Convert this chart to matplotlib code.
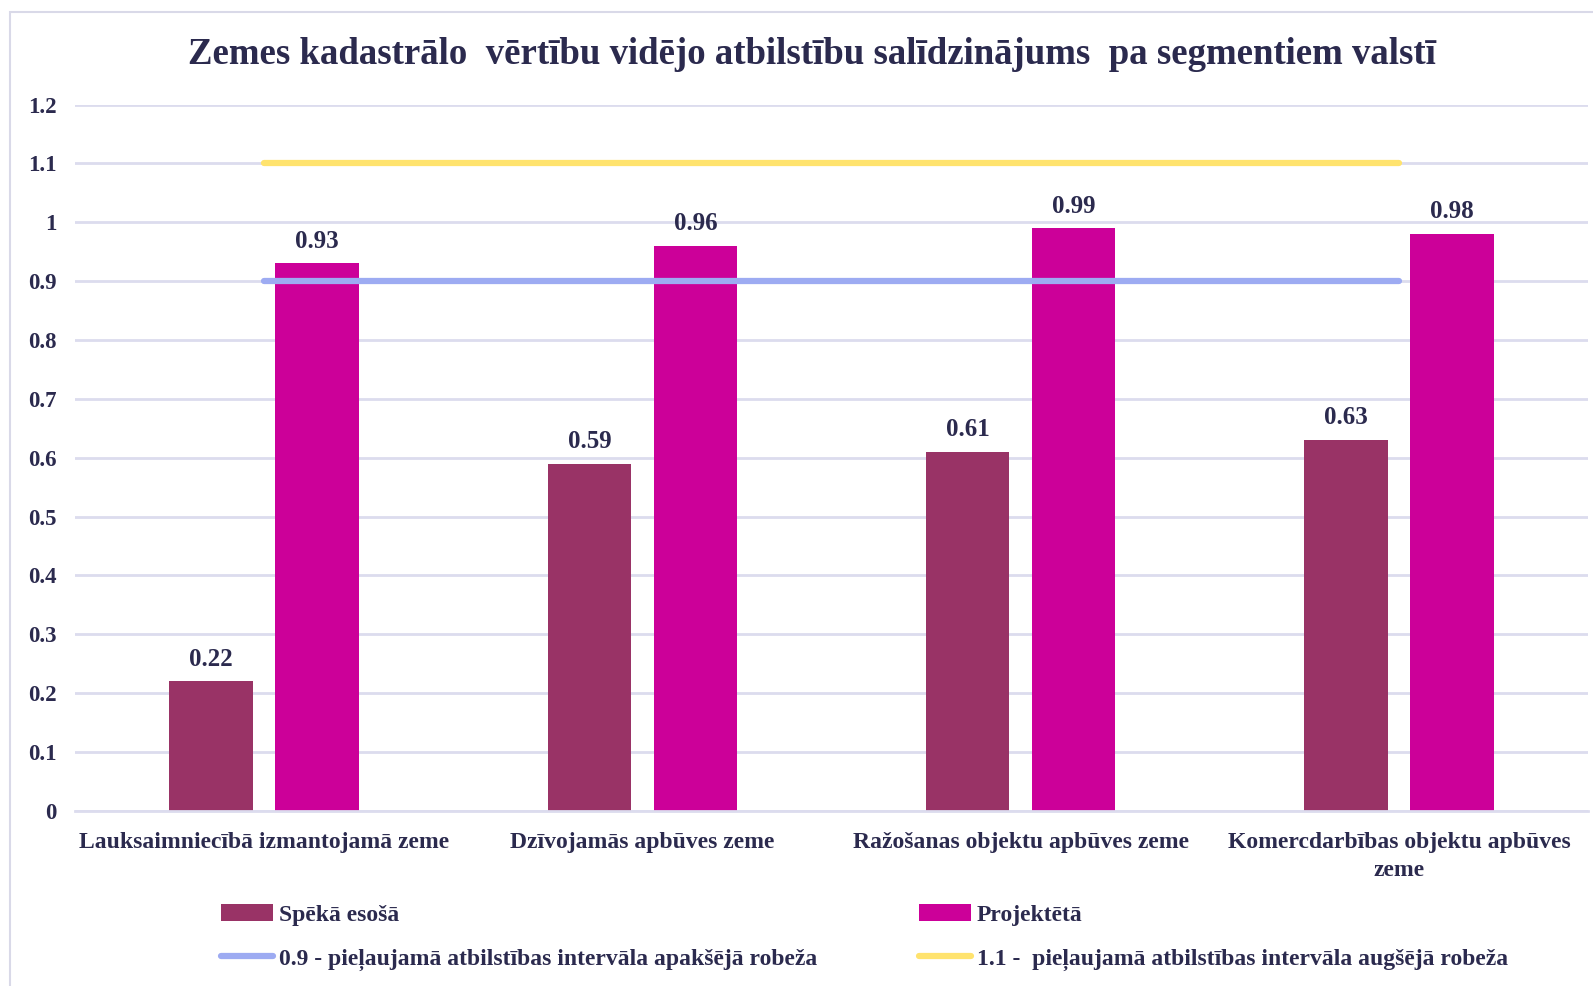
import matplotlib.pyplot as plt
import numpy as np
from matplotlib.patches import Rectangle

# data
categories = ["Lauksaimniecībā izmantojamā zeme", "Dzīvojamās apbūves zeme",
              "Ražošanas objektu apbūves zeme", "Komercdarbības objektu apbūves\nzeme"]
current = [0.22, 0.59, 0.61, 0.63]
projected = [0.93, 0.96, 0.99, 0.98]
lower = [0.9, 0.9, 0.9, 0.9]
upper = [1.1, 1.1, 1.1, 1.1]
yticks = [0, 0.1, 0.2, 0.3, 0.4, 0.5, 0.6, 0.7, 0.8, 0.9, 1, 1.1, 1.2]
ytick_labels = ["0", "0.1", "0.2", "0.3", "0.4", "0.5", "0.6", "0.7", "0.8", "0.9", "1", "1.1", "1.2"]

txt = "#2b2a4e"
grid = "#dcdcee"
plt.rcParams['font.family'] = ['Liberation Serif', 'DejaVu Serif']
plt.rcParams['font.weight'] = 'bold'

fig = plt.figure(figsize=(15.93, 9.86), dpi=100)
fig.patches.append(Rectangle((0.006, -0.01), 1.2, 0.998, transform=fig.transFigure,
                             fill=False, edgecolor="#d9d9e8", linewidth=1.5))
ax = fig.add_axes([0.047, 0.1775, 0.95, 0.7165])

x = np.arange(len(categories))
b1 = ax.bar(x - 0.14, current, 0.22, color="#993366", zorder=2)
b2 = ax.bar(x + 0.14, projected, 0.22, color="#cc0099", zorder=2)
l1, = ax.plot(x, lower, color="#9dabf2", lw=4.5, solid_capstyle="round", zorder=3)
l2, = ax.plot(x, upper, color="#ffe36e", lw=4.5, solid_capstyle="round", zorder=3)

for bars in (b1, b2):
    for r in bars:
        ax.text(r.get_x() + r.get_width() / 2, r.get_height() + 0.018, f"{r.get_height():.2f}",
                ha="center", va="bottom", fontsize=18, color=txt, fontweight="bold")

ax.set_xlim(-0.5, 3.5)
ax.set_ylim(0, 1.2)
ax.set_yticks(yticks)
ax.set_yticklabels(ytick_labels, fontsize=16.5, color=txt, fontweight="bold")
ax.set_xticks(x)
ax.set_xticklabels(categories, fontsize=17, color=txt, fontweight="bold", linespacing=1.45)
ax.tick_params(axis="y", length=0, pad=13)
ax.tick_params(axis="x", length=0, pad=15)
ax.yaxis.grid(True, color=grid, lw=2, zorder=0)
for s in ["top", "right", "left"]:
    ax.spines[s].set_visible(False)
ax.spines["bottom"].set_color(grid)
ax.spines["bottom"].set_linewidth(2)

fig.text(0.51, 0.945, "Zemes kadastrālo  vērtību vidējo atbilstību salīdzinājums  pa segmentiem valstī",
         ha="center", va="center", fontsize=26.5, color=txt, fontweight="bold")

legkw = dict(loc="upper left", frameon=False, prop={"size": 17, "weight": "bold"},
             handlelength=2.2, handletextpad=0.25, labelspacing=0.95, borderpad=0,
             borderaxespad=0, labelcolor=txt)
leg1 = fig.legend([b1, l1], ["Spēkā esošā", "0.9 - pieļaujamā atbilstības intervāla apakšējā robeža"],
                  bbox_to_anchor=(0.139, 0.083), **legkw)
leg2 = fig.legend([b2, l2], ["Projektētā", "1.1 -  pieļaujamā atbilstības intervāla augšējā robeža"],
                  bbox_to_anchor=(0.577, 0.083), **legkw)

fig.savefig("out.png", dpi=100)
